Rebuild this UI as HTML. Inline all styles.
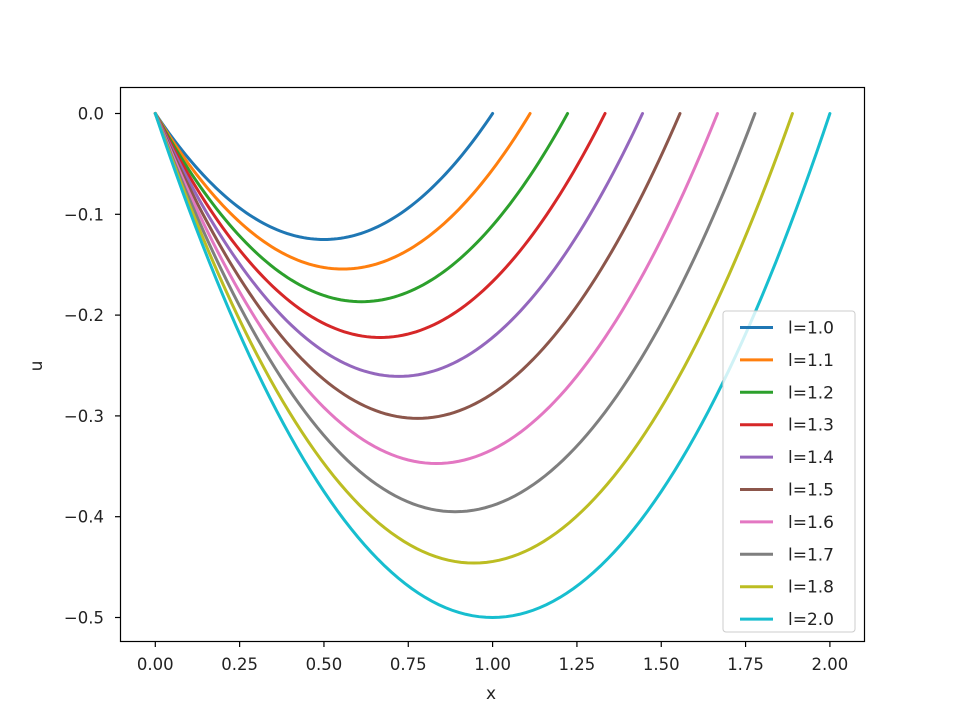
<!DOCTYPE html>
<html><head><meta charset="utf-8"><style>
body{margin:0;background:#fff}
svg{display:block;font-family:"DejaVu Sans","Liberation Sans",sans-serif}
</style></head><body>
<svg id="s" width="960" height="721" xmlns="http://www.w3.org/2000/svg">
<rect width="960" height="721" fill="#fff"/>
<g id="curves"></g>
<rect x="120.5" y="87.5" width="744" height="554" fill="none" stroke="#000" stroke-width="1.2"/>
<g id="ticks" font-size="16.5" fill="#222"></g>
<text x="491" y="699" font-size="17" text-anchor="middle" fill="#222">x</text>
<text transform="translate(42,366) rotate(-90)" font-size="17" text-anchor="middle" fill="#222">u</text>
<rect x="723" y="311" width="132" height="321" rx="3" fill="#fff" fill-opacity="0.8" stroke="#ccc"/>
<g id="leg" font-size="17" fill="#222"></g>
</svg>
<script>
const X=x=>155.3+x*337.3, Y=u=>113.5-u*1008;
const cols=["#1f77b4","#ff7f0e","#2ca02c","#d62728","#9467bd","#8c564b","#e377c2","#7f7f7f","#bcbd22","#17becf"];
const labs=["1.0","1.1","1.2","1.3","1.4","1.5","1.6","1.7","1.8","2.0"];
const ns="http://www.w3.org/2000/svg";
function el(t,a,p,txt){const e=document.createElementNS(ns,t);for(const k in a)e.setAttribute(k,a[k]);if(txt!==undefined)e.textContent=txt;p.appendChild(e);return e;}
const cg=document.getElementById("curves");
for(let i=0;i<10;i++){const l=1+i/9;let d="";for(let j=0;j<=100;j++){const x=l*j/100;const u=-x*(l-x)/2;d+=(j?"L":"M")+X(x).toFixed(2)+","+Y(u).toFixed(2);}
el("path",{d,fill:"none",stroke:cols[i],"stroke-width":3,"stroke-linecap":"round"},cg);}
const tg=document.getElementById("ticks");
for(let i=0;i<=8;i++){const v=i*0.25,x=X(v);el("line",{x1:x,x2:x,y1:641.5,y2:647,stroke:"#000","stroke-width":1.2},tg);el("text",{x:x,y:670,"text-anchor":"middle"},tg,v.toFixed(2));}
for(let i=0;i<=5;i++){const v=-i/10,y=Y(v);el("line",{x1:115,x2:120.5,y1:y,y2:y,stroke:"#000","stroke-width":1.2},tg);el("text",{x:104,y:y+6,"text-anchor":"end"},tg,(i?"\u2212":"")+Math.abs(v).toFixed(1));}
const lg=document.getElementById("leg");
for(let i=0;i<10;i++){const y=327.5+i*32.4;el("line",{x1:740,x2:773,y1:y,y2:y,stroke:cols[i],"stroke-width":3},lg);el("text",{x:788,y:y+6},lg,"l="+labs[i]);}
</script>
</body></html>
